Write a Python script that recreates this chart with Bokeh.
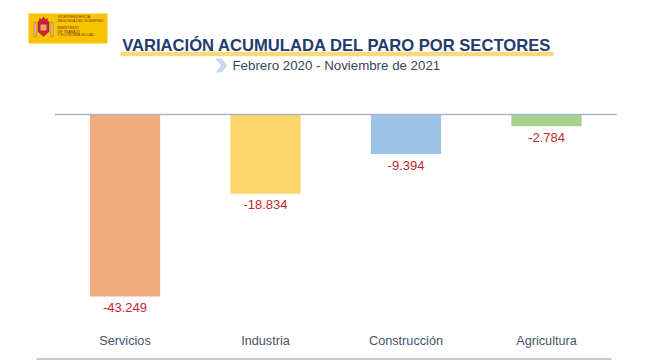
from bokeh.plotting import figure
from bokeh.models import Range1d, ColumnDataSource
from bokeh.core.properties import value
from bokeh.embed import file_html
from bokeh.resources import INLINE

# ---- data ----
categories = ["Servicios", "Industria", "Construcción", "Agricultura"]
values = [-43.249, -18.834, -9.394, -2.784]
value_labels = ["-43.249", "-18.834", "-9.394", "-2.784"]
bar_colors = ["#F0AE80", "#FCD66A", "#9DC3E6", "#A8D28C"]

title_text = "VARIACIÓN ACUMULADA DEL PARO POR SECTORES"
subtitle_text = "Febrero 2020 - Noviembre de 2021"
logo_lines_top = ["VICEPRESIDENCIA", "SEGUNDA DEL GOBIERNO"]
logo_lines_bottom = ["MINISTERIO", "DE TRABAJO", "Y ECONOMÍA SOCIAL"]

W, H = 650, 360
PX_PER_CAT = 140.5
PX_PER_UNIT = 4.21
x0 = -124.5 / PX_PER_CAT
y_top = 114 / PX_PER_UNIT


def X(px):
    return x0 + px / PX_PER_CAT


def Y(py):
    return y_top - py / PX_PER_UNIT


p = figure(width=W, height=H, output_backend="svg", toolbar_location=None,
           x_range=Range1d(x0, x0 + W / PX_PER_CAT),
           y_range=Range1d(y_top - H / PX_PER_UNIT, y_top),
           min_border=0, min_border_left=0, min_border_right=0,
           min_border_top=0, min_border_bottom=0)
p.axis.visible = False
p.grid.visible = False
p.outline_line_color = None
p.background_fill_color = "white"
p.border_fill_color = "white"

FONT = value("Liberation Sans")

idx = list(range(len(categories)))
src = ColumnDataSource(dict(x=idx, top=[0] * len(values), bottom=values,
                            color=bar_colors, lab=value_labels, cat=categories,
                            cat_y=[Y(340)] * len(values)))

# bars
p.vbar(x="x", top="top", bottom="bottom", width=0.5, fill_color="color",
       line_color=None, source=src)

# zero line
p.line(x=[-0.5, len(categories) - 0.5], y=[0, 0], line_color="#A9B6C6", line_width=1.6)

# value labels
p.text(x="x", y="bottom", text="lab", source=src, text_align="center",
       text_baseline="middle", y_offset=11, text_font=FONT,
       text_font_size="13px", text_color="#C0272D")

# category labels
p.text(x="x", y="cat_y", text="cat", source=src, text_align="center",
       text_baseline="middle", text_font=FONT, text_font_size="12.7px",
       text_color="#44546A")

# bottom slide border line
p.line(x=[X(36), X(611)], y=[Y(358.5), Y(358.5)], line_color="#C8C8C8", line_width=2)

# title underline highlight
p.line(x=[X(120), X(553)], y=[Y(53.5), Y(53.5)], line_color="#F8D56E",
       line_width=4.5, line_alpha=0.9)

# title
p.text(x=[X(336.5)], y=[Y(45)], text=[title_text], text_align="center",
       text_baseline="middle", text_font=FONT, text_font_style="bold",
       text_font_size="16.6px", text_color="#1F3C6E")

# subtitle chevron
p.patch(x=[X(215), X(221), X(227), X(221), X(215), X(220.5)],
        y=[Y(58), Y(58), Y(65), Y(72), Y(72), Y(65)],
        fill_color="#C9D8EA", line_color=None)

# subtitle
p.text(x=[X(232)], y=[Y(65)], text=[subtitle_text], text_align="left",
       text_baseline="middle", text_font=FONT, text_font_size="13.3px",
       text_color="#34465C")

# ---- logo ----
p.quad(left=[X(28)], right=[X(107)], top=[Y(13)], bottom=[Y(43)],
       fill_color="#F6C500", line_color=None)
# pillars
p.quad(left=[X(33.5), X(50.5)], right=[X(35.5), X(52.5)],
       top=[Y(22), Y(22)], bottom=[Y(36), Y(36)],
       fill_color="#D9D4C8", line_color="#B23A2E", line_width=0.5)
# shield
p.patch(x=[X(37.5), X(48.5), X(48.5), X(43), X(37.5)],
        y=[Y(21), Y(21), Y(31), Y(36), Y(31)],
        fill_color="#C8203A", line_color="#8E1A22", line_width=0.5)
p.quad(left=[X(40)], right=[X(46)], top=[Y(24)], bottom=[Y(30)],
       fill_color="#E9A36A", line_color=None)
# crown
p.patch(x=[X(38.5), X(47.5), X(47), X(45), X(43), X(41), X(39)],
        y=[Y(21), Y(21), Y(17.5), Y(19), Y(16), Y(19), Y(17.5)],
        fill_color="#C8203A", line_color=None)
p.text(x=[X(57)] * 2, y=[Y(16.5), Y(20)], text=logo_lines_top,
       text_align="left", text_baseline="middle", text_font=FONT,
       text_font_size="3.6px", text_color="#7A2A1A")
p.text(x=[X(57)] * 3, y=[Y(27.5), Y(31), Y(34.5)], text=logo_lines_bottom,
       text_align="left", text_baseline="middle", text_font=FONT,
       text_font_size="3.6px", text_color="#7A2A1A")

open("out.html", "w").write(file_html(p, INLINE))
